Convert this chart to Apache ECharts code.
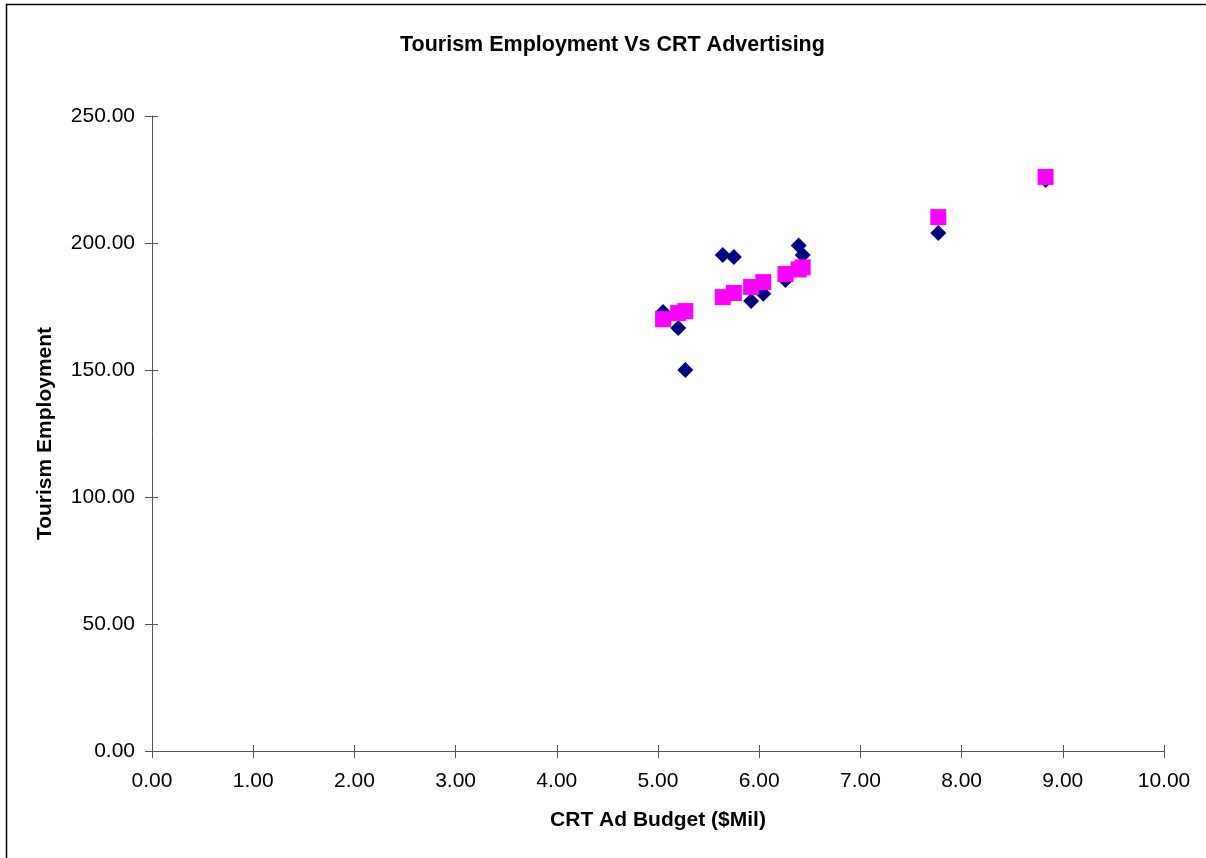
<!DOCTYPE html>
<html>
<head>
<meta charset="utf-8">
<script src="https://cdn.jsdelivr.net/npm/echarts@6/dist/echarts.min.js"></script>
<style>
  html, body { margin: 0; padding: 0; background: #fff; }
  #main { width: 1206px; height: 858px; }
</style>
</head>
<body>
<div id="main"></div>
<script>
// CRT ad budget ($Mil) for each year
var adBudget = [5.05, 5.20, 5.27, 5.64, 5.75, 5.92, 6.04, 6.26, 6.39, 6.43, 7.77, 8.83];
// actual tourism employment
var employment = [172.8, 166.5, 150.0, 195.3, 194.5, 177.2, 180.0, 185.4, 199.0, 195.3, 203.9, 224.8];
// fitted (predicted) employment
var predicted = [170.0, 172.4, 173.2, 178.7, 180.3, 182.7, 184.6, 187.8, 189.6, 190.4, 210.2, 226.0];

// 两组点
var actualPts = [], predPts = [];
for (var i = 0; i < adBudget.length; i++) {
	actualPts.push([adBudget[i], employment[i]]);
	predPts.push([adBudget[i], predicted[i]]);
}

var font = 'Arial, "Liberation Sans", sans-serif';
var axisColor = '#555';

function fmt(v) { return v.toFixed(2); }

var myChart = echarts.init(document.getElementById('main'));
var option = {
	backgroundColor: '#fff',
	animation: false,
	title: {
		text: 'Tourism Employment Vs CRT Advertising',
		left: 395,
		top: 29,
		textStyle: { fontFamily: font, fontSize: 21.5, fontWeight: 'bold', color: '#000' }
	},
	graphic: [{
		type: 'rect',
		shape: { x: 6.5, y: 4.5, width: 1220, height: 880 },
		style: { fill: 'none', stroke: '#000', lineWidth: 1.5 },
		silent: true
	}],
	grid: { left: 152, right: 42, top: 116, bottom: 107 },
	xAxis: [{
		type: 'value',
		min: 0, max: 10, interval: 1,
		name: 'CRT Ad Budget ($Mil)',
		nameLocation: 'middle',
		nameGap: 59,
		nameTextStyle: { fontFamily: font, fontSize: 21, fontWeight: 'bold', color: '#000' },
		axisLine: { show: true, lineStyle: { color: axisColor, width: 1 } },
		axisTick: { show: true, inside: false, length: 7, lineStyle: { color: axisColor } },
		axisLabel: { fontFamily: font, fontSize: 21, color: '#000', margin: 20, formatter: fmt },
		splitLine: { show: false }
	}, {
		// 内侧刻度，做成十字形刻度
		type: 'value', position: 'bottom',
		min: 0, max: 10, interval: 1,
		axisLine: { show: false },
		axisTick: { show: true, inside: true, length: 6, lineStyle: { color: axisColor } },
		axisLabel: { show: false },
		splitLine: { show: false }
	}],
	yAxis: [{
		type: 'value',
		min: 0, max: 250, interval: 50,
		name: 'Tourism Employment',
		nameLocation: 'middle',
		nameGap: 96,
		nameTextStyle: { fontFamily: font, fontSize: 21, fontWeight: 'bold', color: '#000' },
		axisLine: { show: true, lineStyle: { color: axisColor, width: 1 } },
		axisTick: { show: true, inside: false, length: 7, lineStyle: { color: axisColor } },
		axisLabel: { fontFamily: font, fontSize: 21, color: '#000', margin: 17, formatter: fmt },
		splitLine: { show: false }
	}, {
		type: 'value', position: 'left',
		min: 0, max: 250, interval: 50,
		axisLine: { show: false },
		axisTick: { show: true, inside: true, length: 6, lineStyle: { color: axisColor } },
		axisLabel: { show: false },
		splitLine: { show: false }
	}],
	series: [{
		name: 'Tourism Employment',
		type: 'scatter',
		symbol: 'diamond',
		symbolSize: 16,
		itemStyle: { color: '#000080', opacity: 1 },
		data: actualPts
	}, {
		name: 'Predicted Tourism Employment',
		type: 'scatter',
		symbol: 'rect',
		symbolSize: 16,
		itemStyle: { color: '#ff00ff', opacity: 1 },
		data: predPts
	}]
};
myChart.setOption(option);
</script>
</body>
</html>
